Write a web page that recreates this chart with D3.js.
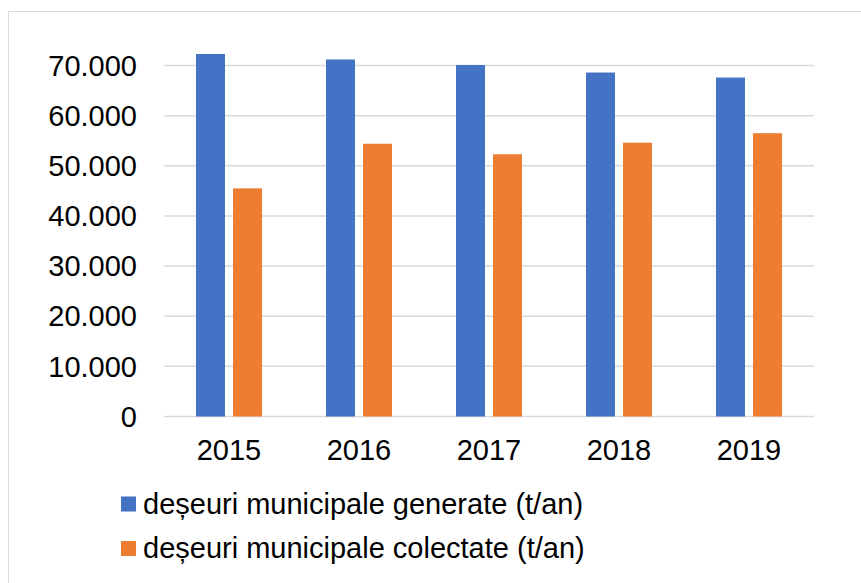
<!DOCTYPE html>
<html>
<head>
<meta charset="utf-8">
<script src="https://cdn.jsdelivr.net/npm/d3@7"></script>
<style>
  html, body { margin: 0; padding: 0; background: #fff; }
  svg { display: block; }
  text { font-family: "Liberation Sans", Arial, sans-serif; fill: #000; }
</style>
</head>
<body>
<svg id="chart" width="861" height="583"></svg>
<script>
// Municipal waste, tonnes per year
const years = ["2015", "2016", "2017", "2018", "2019"];
const generated = [72300, 71200, 70100, 68600, 67600];
const collected = [45500, 54400, 52300, 54600, 56500];
const seriesNames = ["deșeuri municipale generate (t/an)", "deșeuri municipale colectate (t/an)"];
const seriesColors = ["#4472C4", "#ED7D31"];
const yTicks = [0, 10000, 20000, 30000, 40000, 50000, 60000, 70000];

const fontSize = 29;
const svg = d3.select("#chart");

// outer frame
svg.append("rect")
  .attr("x", 8.5).attr("y", 11.5)
  .attr("width", 870).attr("height", 600)
  .attr("fill", "none").attr("stroke", "#d9d9d9").attr("stroke-width", 1);

const plotLeft = 164, plotRight = 814;
const y = d3.scaleLinear().domain([0, 70000]).range([416.5, 65.5]);
const x0 = d3.scaleBand().domain(years).range([plotLeft, plotRight])
  .paddingInner(0.4923).paddingOuter(0.24615);
const x1 = d3.scaleBand().domain([0, 1]).range([0, x0.bandwidth()]).paddingInner(8 / 37);

// gridlines
svg.append("g").selectAll("line").data(yTicks).join("line")
  .attr("x1", plotLeft).attr("x2", plotRight)
  .attr("y1", d => y(d)).attr("y2", d => y(d))
  .attr("stroke", "#d9d9d9").attr("stroke-width", 1.5);

// y tick labels, thousands separated by a dot
const fmt = d => d3.format(",")(d).replace(/,/g, ".");
svg.append("g").selectAll("text").data(yTicks).join("text")
  .attr("x", 137).attr("y", d => y(d)).attr("dy", "0.35em")
  .attr("text-anchor", "end").attr("font-size", fontSize)
  .text(fmt);

// bars
const rows = years.map((yr, i) => ({ yr, vals: [generated[i], collected[i]] }));
const groups = svg.append("g").selectAll("g").data(rows).join("g")
  .attr("transform", d => `translate(${x0(d.yr)},0)`);
groups.selectAll("rect").data(d => d.vals.map((v, k) => ({ v, k }))).join("rect")
  .attr("x", d => x1(d.k)).attr("width", x1.bandwidth())
  .attr("y", d => y(d.v)).attr("height", d => y(0) - y(d.v))
  .attr("fill", d => seriesColors[d.k]);

// x category labels
svg.append("g").selectAll("text").data(years).join("text")
  .attr("x", d => x0(d) + x0.bandwidth() / 2).attr("y", 460)
  .attr("text-anchor", "middle").attr("font-size", fontSize)
  .text(d => d);

// legend
const legend = svg.append("g").selectAll("g").data(seriesNames).join("g")
  .attr("transform", (d, i) => `translate(121,${496.5 + i * 44.5})`);
legend.append("rect").attr("width", 15).attr("height", 15)
  .attr("fill", (d, i) => seriesColors[i]);
legend.append("text").attr("x", 22).attr("y", 17)
  .attr("font-size", fontSize).text(d => d);
</script>
</body>
</html>
